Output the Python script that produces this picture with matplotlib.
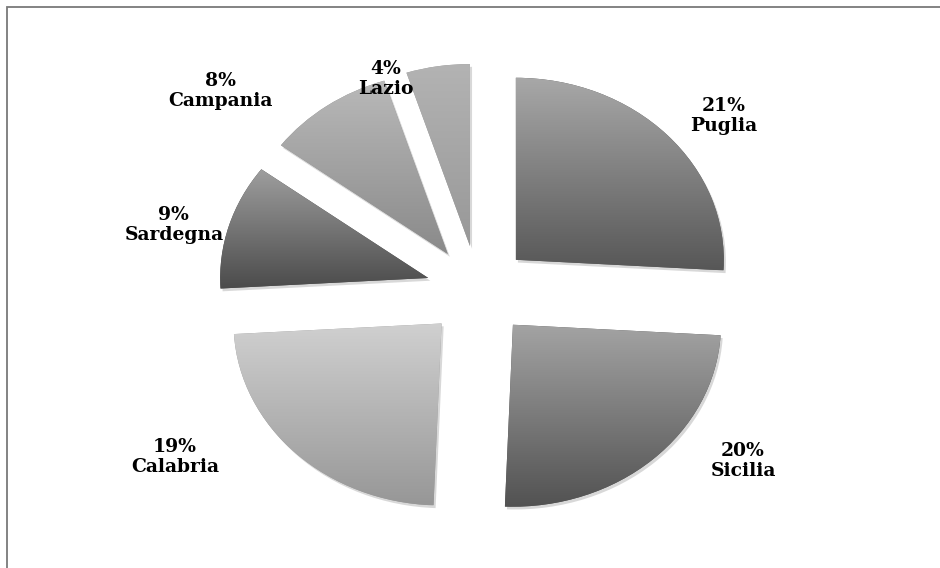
import numpy as np
import matplotlib
matplotlib.use("Agg")
import matplotlib.pyplot as plt
import matplotlib.colors as mcolors
import matplotlib.patheffects as pe
from matplotlib.patches import Rectangle

# share of the total per region, clockwise from the top
regions = ["Puglia", "Sicilia", "Calabria", "Sardegna", "Campania", "Lazio"]
shares = [21, 20, 19, 9, 8, 4]

# grey ramp for each slice (top -> bottom)
TOP_GREY = ["#a8a8a8", "#a3a3a3", "#d0d0d0", "#9e9e9e", "#b9b9b9", "#b3b3b3"]
BOTTOM_GREY = ["#575757", "#525252", "#979797", "#4b4b4b", "#8a8a8a", "#989898"]

EXPLODE = 0.25
# label anchors in data units (radius = 1)
LABEL_XY = [(1.183, 0.962), (1.274, -0.934), (-1.457, -0.912),
            (-1.462, 0.363), (-1.236, 1.099), (-0.442, 1.165)]

W, H = 940, 568
CX, CY, RX, RY = 478, 291, 208, 182  # pie centre and radii in pixels

fig = plt.figure(figsize=(W / 100, H / 100), dpi=100)
ax = fig.add_axes([0, 0, 1, 1])

labels = [f"{v}%\n{name}" for v, name in zip(shares, regions)]
wedges, texts = ax.pie(
    shares,
    labels=labels,
    explode=[EXPLODE] * len(shares),
    startangle=90,
    counterclock=False,
    radius=1.0,
    textprops=dict(family="DejaVu Serif", weight="bold", size=13.5, color="black"),
)

# gradient fill clipped to every wedge
for w, c0, c1 in zip(wedges, TOP_GREY, BOTTOM_GREY):
    w.set_facecolor(c1)
    w.set_edgecolor("none")
    w.set_path_effects([pe.SimplePatchShadow(offset=(1.5, -2), shadow_rgbFace="0.4", alpha=0.25),
                        pe.Normal()])
    ext = w.get_path().get_extents(w.get_patch_transform())
    cmap = mcolors.LinearSegmentedColormap.from_list("g", [c1, c0])
    grad = np.linspace(0, 1, 256).reshape(-1, 1)
    im = ax.imshow(grad, cmap=cmap, origin="lower", aspect="auto",
                   extent=(ext.x0, ext.x1, ext.y0, ext.y1), interpolation="bilinear", zorder=2)
    im.set_clip_path(w)

for t, (x, y) in zip(texts, LABEL_XY):
    t.set_position((x, y))
    t.set_ha("center")
    t.set_va("center")
    t.set_linespacing(1.2)
    t.set_multialignment("center")

ax.set_aspect("auto")
ax.set_xlim(-CX / RX, (W - CX) / RX)
ax.set_ylim(-(H - CY) / RY, CY / RY)
ax.axis("off")

# chart-area frame, running off the right and bottom edges
fig.patches.append(Rectangle((7.5 / W, -0.1), 1.2, 1.1 - 7.5 / H, transform=fig.transFigure,
                             fill=False, edgecolor="#7a7a7a", linewidth=1.3))

fig.savefig("out.png", dpi=100, facecolor="white")
